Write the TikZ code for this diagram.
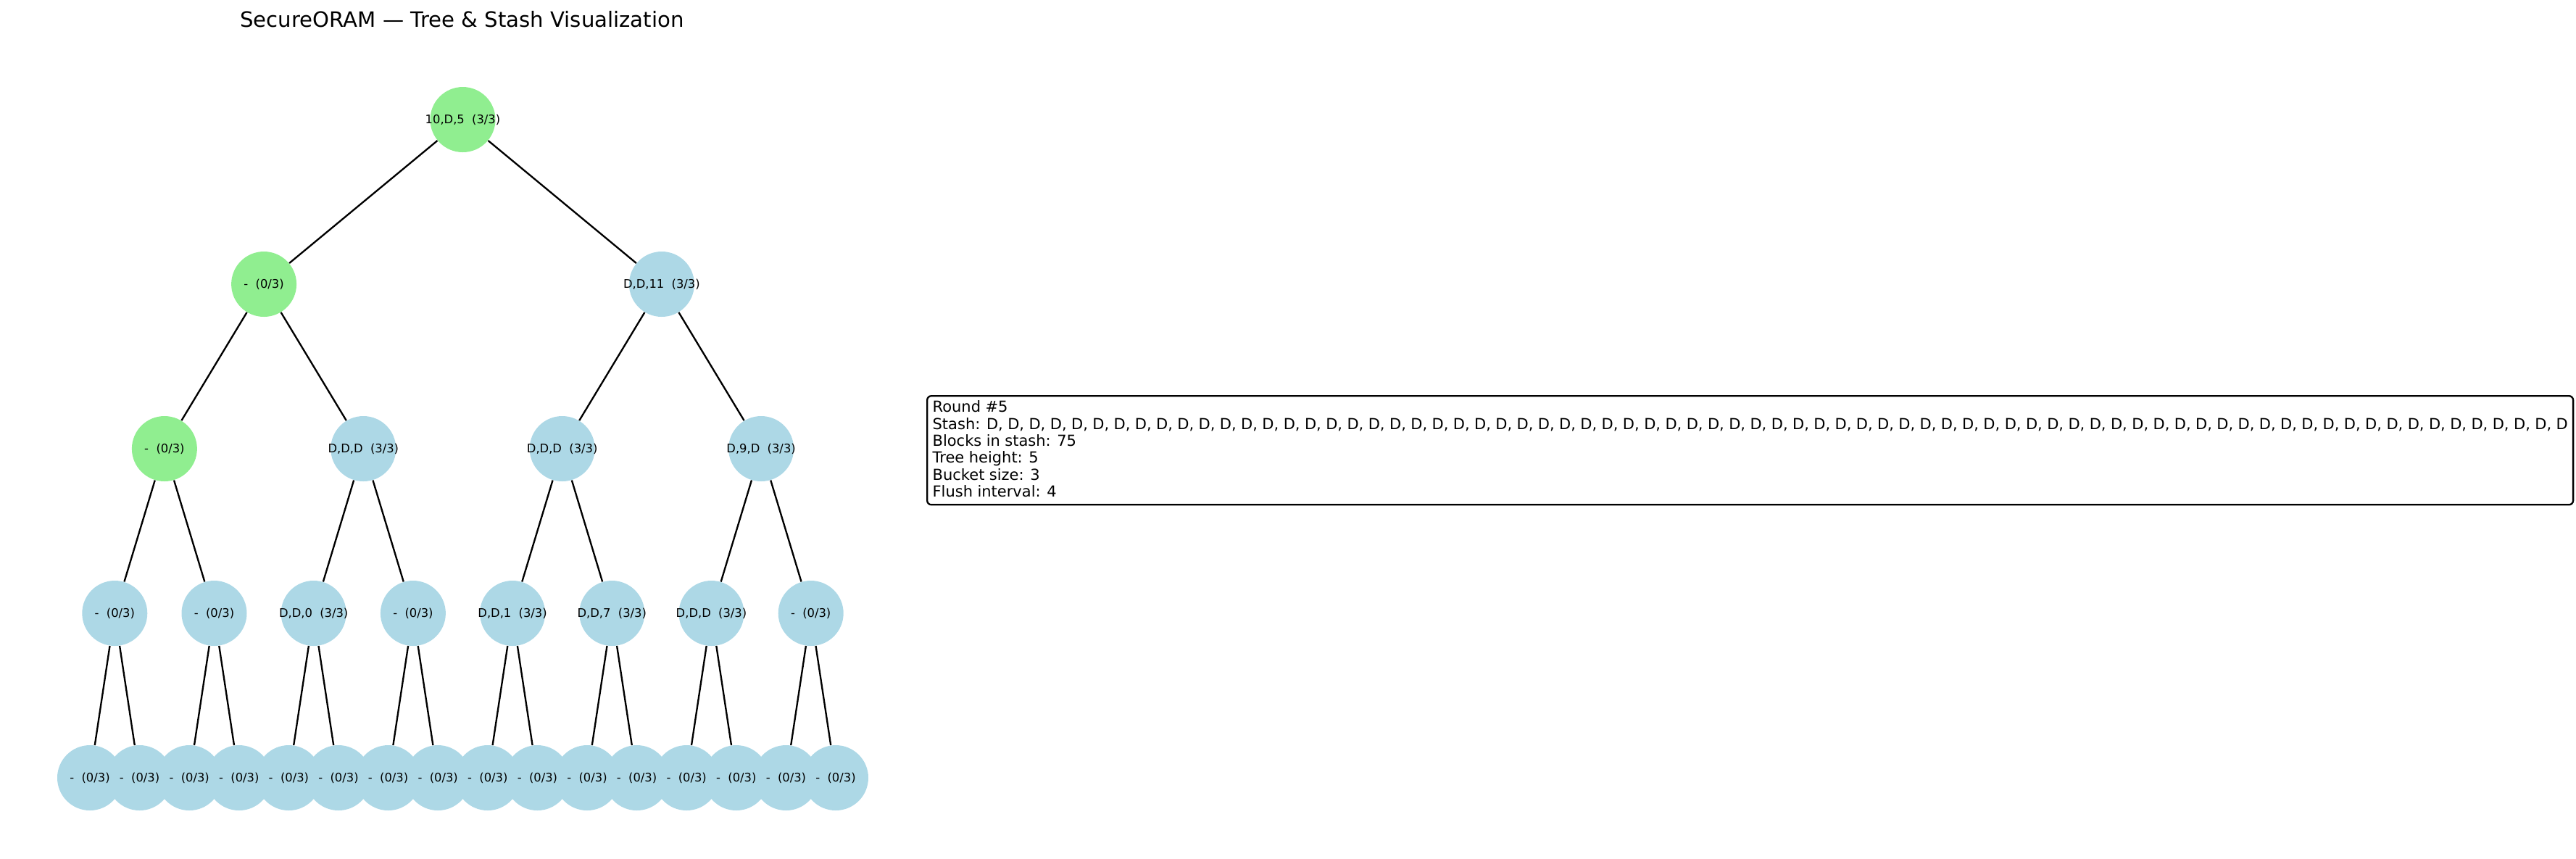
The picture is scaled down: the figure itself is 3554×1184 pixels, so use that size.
\documentclass[tikz,border=0pt]{standalone}
\usepackage{fontspec}
\setmainfont{DejaVu Sans}
\definecolor{lgreen}{HTML}{90EE90}
\definecolor{lblue}{HTML}{ADD8E6}
\newcommand\myinfofont{\fontsize{9}{10}\selectfont\spaceskip=2.75pt plus 0pt minus 0pt\relax}
\begin{document}
\begin{tikzpicture}[x=0.42857pt,y=-0.42857pt,
  bucket/.style={circle, minimum size=38.57pt, inner sep=0pt},
  gbucket/.style={bucket, fill=lgreen},
  bbucket/.style={bucket, fill=lblue},
  blabel/.style={font=\fontsize{7}{8.4}\selectfont, inner sep=0pt},
  edge/.style={line width=1pt, black},
  infobox/.style={draw, line width=1pt, rounded corners=2.5pt, fill=white,
    align=left, inner xsep=3.2pt, inner ysep=2.8pt, anchor=north west,
    font=\myinfofont},
  titletext/.style={font=\fontsize{12.5}{15}\selectfont, anchor=base, inner sep=0pt}]
\useasboundingbox (0,0) rectangle (3554,1184);
% title
\node[titletext] (title) at (637.5,37.8) {SecureORAM — Tree \& Stash Visualization};
% circles
\node[gbucket] (r) at (638.5,165) {};
\node[gbucket] (a0) at (364.1,392) {};
\node[bbucket] (a1) at (912.9,392) {};
\node[gbucket] (b0) at (226.9,619) {};
\foreach \i in {1,2,3} \node[bbucket] (b\i) at ({226.9+274.4*\i},619) {};
\foreach \i in {0,...,7} \node[bbucket] (c\i) at ({158.3+137.2*\i},846) {};
\foreach \i in {0,...,15} \node[bbucket] (d\i) at ({124+68.6*\i},1073) {};
% edges
\draw[edge] (r) -- (a0);
\draw[edge] (r) -- (a1);
\foreach \i [evaluate=\i as \j using int(2*\i), evaluate=\i as \k using int(2*\i+1)] in {0,1} {
  \draw[edge] (a\i) -- (b\j);
  \draw[edge] (a\i) -- (b\k);
}
\foreach \i [evaluate=\i as \j using int(2*\i), evaluate=\i as \k using int(2*\i+1)] in {0,...,3} {
  \draw[edge] (b\i) -- (c\j);
  \draw[edge] (b\i) -- (c\k);
}
\foreach \i [evaluate=\i as \j using int(2*\i), evaluate=\i as \k using int(2*\i+1)] in {0,...,7} {
  \draw[edge] (c\i) -- (d\j);
  \draw[edge] (c\i) -- (d\k);
}
% labels
\node[blabel] (tr) at (r) {10,D,5~~(3/3)};
\node[blabel] (ta0) at (a0) {-~~(0/3)};
\node[blabel] (ta1) at (a1) {D,D,11~~(3/3)};
\node[blabel] (tb0) at (b0) {-~~(0/3)};
\node[blabel] (tb1) at (b1) {D,D,D~~(3/3)};
\node[blabel] (tb2) at (b2) {D,D,D~~(3/3)};
\node[blabel] (tb3) at (b3) {D,9,D~~(3/3)};
\node[blabel] (tc0) at (c0) {-~~(0/3)};
\node[blabel] (tc1) at (c1) {-~~(0/3)};
\node[blabel] (tc2) at (c2) {D,D,0~~(3/3)};
\node[blabel] (tc3) at (c3) {-~~(0/3)};
\node[blabel] (tc4) at (c4) {D,D,1~~(3/3)};
\node[blabel] (tc5) at (c5) {D,D,7~~(3/3)};
\node[blabel] (tc6) at (c6) {D,D,D~~(3/3)};
\node[blabel] (tc7) at (c7) {-~~(0/3)};
\foreach \i in {0,...,15} \node[blabel] (td\i) at (d\i) {-~~(0/3)};
% info box
\node[infobox] (info) at (1278,545) {Round \#5\\
Stash: D, D, D, D, D, D, D, D, D, D, D, D, D, D, D, D, D, D, D, D, D, D, D, D, D, D, D, D, D, D, D, D, D, D, D, D, D, D, D, D, D, D, D, D, D, D, D, D, D, D, D, D, D, D, D, D, D, D, D, D, D, D, D, D, D, D, D, D, D, D, D, D, D, D, D\\
Blocks in stash: 75\\
Tree height: 5\\
Bucket size: 3\\
Flush interval: 4\rule[-1.9pt]{0pt}{0pt}};
\end{tikzpicture}
\end{document}
